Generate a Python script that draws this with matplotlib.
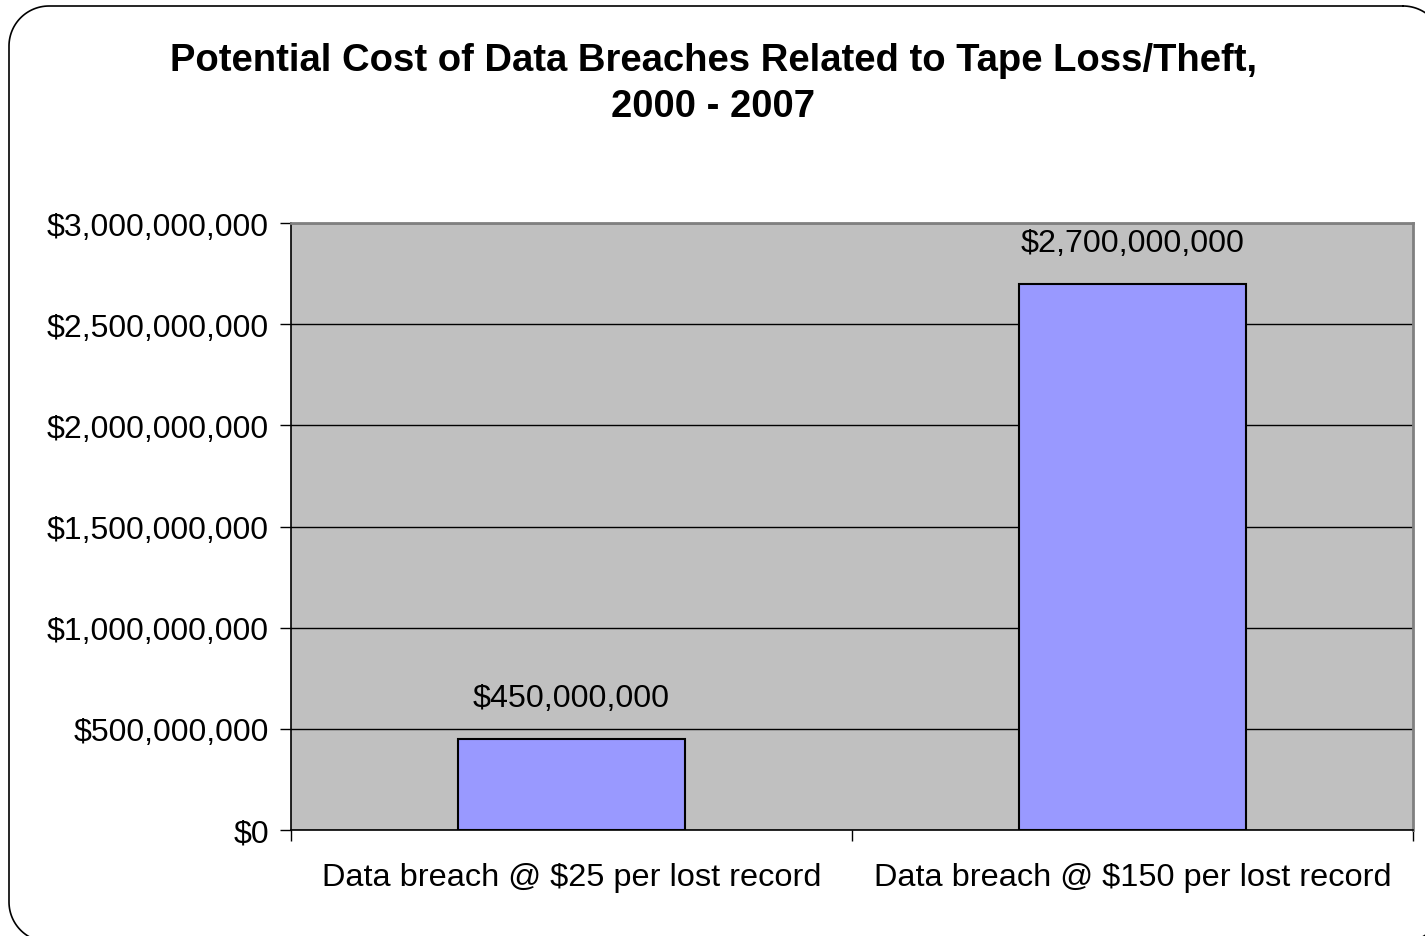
import numpy as np
import matplotlib.pyplot as plt
import matplotlib.ticker as ticker
from matplotlib.lines import Line2D

# Chart data
categories = ["Data breach @ $25 per lost record", "Data breach @ $150 per lost record"]
costs = [450000000, 2700000000]
y_ticks = [0, 500000000, 1000000000, 1500000000, 2000000000, 2500000000, 3000000000]

plt.rcParams['font.family'] = ['Liberation Sans', 'DejaVu Sans']

W, H = 1425, 937
fig = plt.figure(figsize=(W / 100, H / 100), dpi=100)


def rounded_outline(x0, y0, x1, y1, r):
    # outline of a rounded rectangle in pixel units (y measured from the top)
    pts = []
    corners = [(x1 - r, y0 + r, -90, 0), (x1 - r, y1 - r, 0, 90),
               (x0 + r, y1 - r, 90, 180), (x0 + r, y0 + r, 180, 270)]
    for cx, cy, a0, a1 in corners:
        t = np.radians(np.linspace(a0, a1, 30))
        pts += list(zip(cx + r * np.cos(t), cy + r * np.sin(t)))
    pts.append(pts[0])
    return np.array(pts)


# frame around the whole chart, the right and bottom edges run off the canvas
outline = rounded_outline(9, 7, 1443, 943, 40)
fig.add_artist(Line2D(outline[:, 0] / W, 1 - outline[:, 1] / H, transform=fig.transFigure,
                      color='black', linewidth=1.2, zorder=-1))

ax = fig.add_axes([291 / W, 106 / H, 1122 / W, 607 / H])
ax.set_facecolor('#C0C0C0')

x = list(range(len(categories)))
bars = ax.bar(x, costs, width=0.405, color='#9999FF', edgecolor='black', linewidth=1.5, zorder=3)

ax.set_xlim(-0.5, len(categories) - 0.5)
ax.set_ylim(0, 3000000000)
ax.set_yticks(y_ticks)
ax.yaxis.set_major_formatter(ticker.FuncFormatter(lambda v, p: "${:,.0f}".format(v)))
ax.grid(axis='y', color='black', linewidth=1.0, zorder=1)
ax.set_axisbelow(True)

ax.set_xticks(x)
ax.set_xticklabels(categories)
ax.set_xticks([-0.5, 0.5, 1.5], minor=True)
ax.tick_params(axis='x', which='major', length=0, pad=23, labelsize=23.4)
ax.tick_params(axis='x', which='minor', length=8, width=1, direction='out')
ax.tick_params(axis='y', which='major', length=8, width=1, direction='out', pad=8, labelsize=23)

for side in ['top', 'right']:
    ax.spines[side].set_color('#808080')
    ax.spines[side].set_linewidth(2)
for side in ['left', 'bottom']:
    ax.spines[side].set_color('black')
    ax.spines[side].set_linewidth(1.2)

# value labels above each bar
for xi, val in zip(x, costs):
    ax.annotate("${:,.0f}".format(val), (xi, val), xytext=(0, 41), textcoords='offset pixels',
                ha='center', va='center', fontsize=23.2)

fig.text(713 / W, 1 - 84 / H,
         "Potential Cost of Data Breaches Related to Tape Loss/Theft,\n2000 - 2007",
         ha='center', va='center', fontsize=27.5, fontweight='bold', linespacing=1.36)

fig.savefig('out.png', dpi=100)
